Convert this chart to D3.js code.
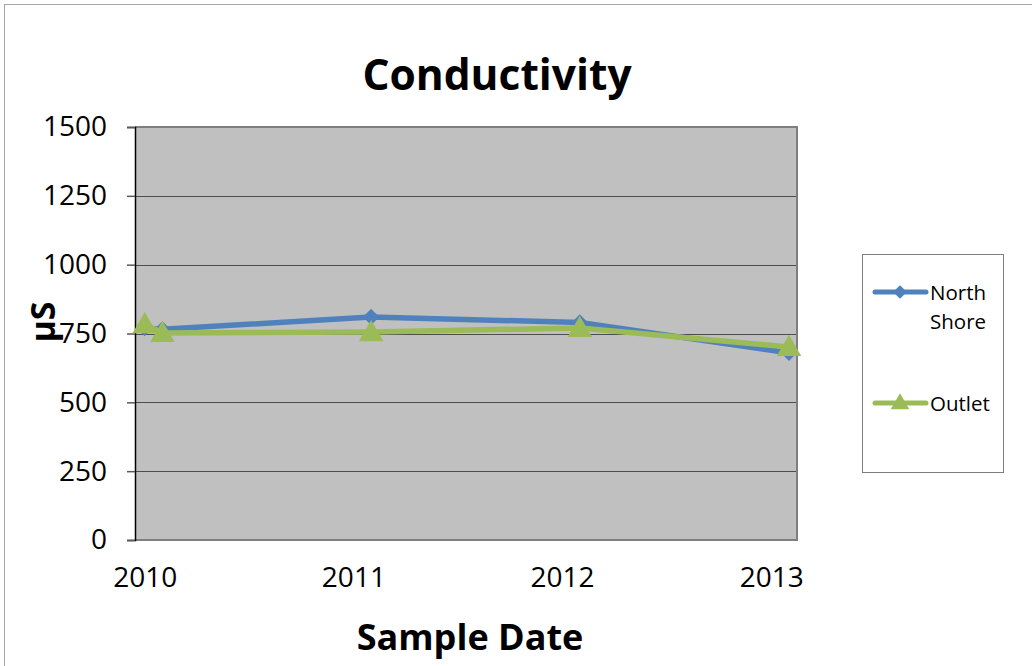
<!DOCTYPE html>
<html>
<head>
<meta charset="utf-8">
<script src="https://cdn.jsdelivr.net/npm/d3@7/dist/d3.min.js"></script>
<style>
  html, body { margin: 0; padding: 0; background: #fff; }
  svg { display: block; font-family: "Open Sans", "Noto Sans", sans-serif; }
</style>
</head>
<body>
<svg id="chart" width="1032" height="666"></svg>
<script>
// Sample dates and conductivity readings (µS)
const sampleDates = ["2010-01-01", "2010-02-01", "2011-02-01", "2012-02-01", "2013-02-01"];
const northShore = [770, 765, 810, 790, 680];
const outlet = [784, 752, 755, 770, 701];
const seriesNames = ["North Shore", "Outlet"];
const yTicks = [0, 250, 500, 750, 1000, 1250, 1500];
const xTickYears = ["2010-01-01", "2011-01-01", "2012-01-01", "2013-01-01"];

const parse = d3.utcParse("%Y-%m-%d");
const svg = d3.select("#chart");

// outer frame
svg.append("rect")
  .attr("x", 4.5).attr("y", 4.5)
  .attr("width", 1100).attr("height", 700)
  .attr("fill", "#fff").attr("stroke", "#a6a6a6").attr("stroke-width", 1);

const plot = { left: 135, right: 797, top: 127, bottom: 540 };

const x = d3.scaleUtc()
  .domain([parse("2009-12-15"), parse("2013-02-15")])
  .range([plot.left, plot.right]);
const y = d3.scaleLinear().domain([0, 1500]).range([plot.bottom, plot.top]);

// plot background
svg.append("rect")
  .attr("x", plot.left).attr("y", plot.top)
  .attr("width", plot.right - plot.left).attr("height", plot.bottom - plot.top)
  .attr("fill", "#c0c0c0");

// horizontal gridlines
svg.append("g")
  .selectAll("line")
  .data(yTicks.filter(v => v > 0 && v < 1500))
  .join("line")
  .attr("x1", plot.left).attr("x2", plot.right)
  .attr("y1", d => Math.round(y(d)) + 0.5).attr("y2", d => Math.round(y(d)) + 0.5)
  .attr("stroke", "#4d4d4d").attr("stroke-width", 1);

// plot border (top, right, bottom)
svg.append("path")
  .attr("d", `M${plot.left},${plot.top}H${plot.right}V${plot.bottom}H${plot.left}`)
  .attr("fill", "none").attr("stroke", "#7f7f7f").attr("stroke-width", 2);

// y axis
const yAxis = d3.axisLeft(y).tickValues(yTicks).tickFormat(d3.format("d")).tickSize(8).tickPadding(20);
const gy = svg.append("g").attr("transform", `translate(${plot.left},0)`).call(yAxis);
gy.select(".domain").attr("stroke", "#000").attr("stroke-width", 1.5);
gy.selectAll(".tick line").attr("stroke", "#595959").attr("stroke-width", 1.5);
gy.selectAll(".tick text")
  .attr("font-size", 28).attr("fill", "#000")
  .attr("font-family", "'Open Sans', sans-serif");

// x axis labels
const xAxis = d3.axisBottom(x)
  .tickValues(xTickYears.map(parse))
  .tickFormat(d3.utcFormat("%Y"))
  .tickSize(0).tickPadding(27);
const gx = svg.append("g").attr("transform", `translate(0,${plot.bottom})`).call(xAxis);
gx.select(".domain").remove();
gx.selectAll(".tick text")
  .attr("font-size", 28).attr("fill", "#000")
  .attr("font-family", "'Open Sans', sans-serif");

// series lines
const colors = ["#4f81bd", "#9bbb59"];
const seriesData = [northShore, outlet].map((vals, i) =>
  vals.map((v, j) => ({ date: parse(sampleDates[j]), value: v, s: i })));

const line = d3.line().x(d => x(d.date)).y(d => y(d.value));

seriesData.forEach((pts, i) => {
  svg.append("path")
    .datum(pts)
    .attr("d", line)
    .attr("fill", "none")
    .attr("stroke", colors[i])
    .attr("stroke-width", 5.5)
    .attr("stroke-linejoin", "round")
    .attr("stroke-linecap", "round");
  const sym = i === 0 ? d3.symbol(d3.symbolDiamond2, 170) : d3.symbol(d3.symbolTriangle, 260);
  svg.append("g")
    .selectAll("path")
    .data(pts)
    .join("path")
    .attr("transform", d => `translate(${x(d.date)},${y(d.value) + (i === 1 ? 2 : 0)})`)
    .attr("d", sym)
    .attr("fill", colors[i]);
});

// titles
svg.append("text")
  .attr("x", 497).attr("y", 90)
  .attr("text-anchor", "middle")
  .attr("font-size", 42.5).attr("font-weight", "bold")
  .text("Conductivity");

svg.append("text")
  .attr("x", 470).attr("y", 650)
  .attr("text-anchor", "middle")
  .attr("font-size", 36).attr("font-weight", "bold")
  .text("Sample Date");

svg.append("text")
  .attr("transform", "translate(55,322) rotate(-90)")
  .attr("text-anchor", "middle")
  .attr("font-size", 34).attr("font-weight", "bold")
  .text("µS");

// legend
const lg = svg.append("g");
lg.append("rect")
  .attr("x", 862.5).attr("y", 254.5).attr("width", 141).attr("height", 218)
  .attr("fill", "#fff").attr("stroke", "#7f7f7f").attr("stroke-width", 1);

const legendRows = [
  { y: 292, lines: ["North", "Shore"] },
  { y: 403, lines: ["Outlet"] }
];
legendRows.forEach((row, i) => {
  lg.append("line")
    .attr("x1", 875).attr("x2", 926).attr("y1", row.y).attr("y2", row.y)
    .attr("stroke", colors[i]).attr("stroke-width", 5).attr("stroke-linecap", "round");
  lg.append("path")
    .attr("transform", `translate(900,${row.y + (i === 1 ? 1 : 0)})`)
    .attr("d", i === 0 ? d3.symbol(d3.symbolDiamond2, 120)() : d3.symbol(d3.symbolTriangle, 150)())
    .attr("fill", colors[i]);
  row.lines.forEach((t, k) => {
    lg.append("text")
      .attr("x", 930).attr("y", row.y + 8 + k * 29)
      .attr("font-size", 20.5).attr("fill", "#000")
      .text(t);
  });
});
</script>
</body>
</html>
